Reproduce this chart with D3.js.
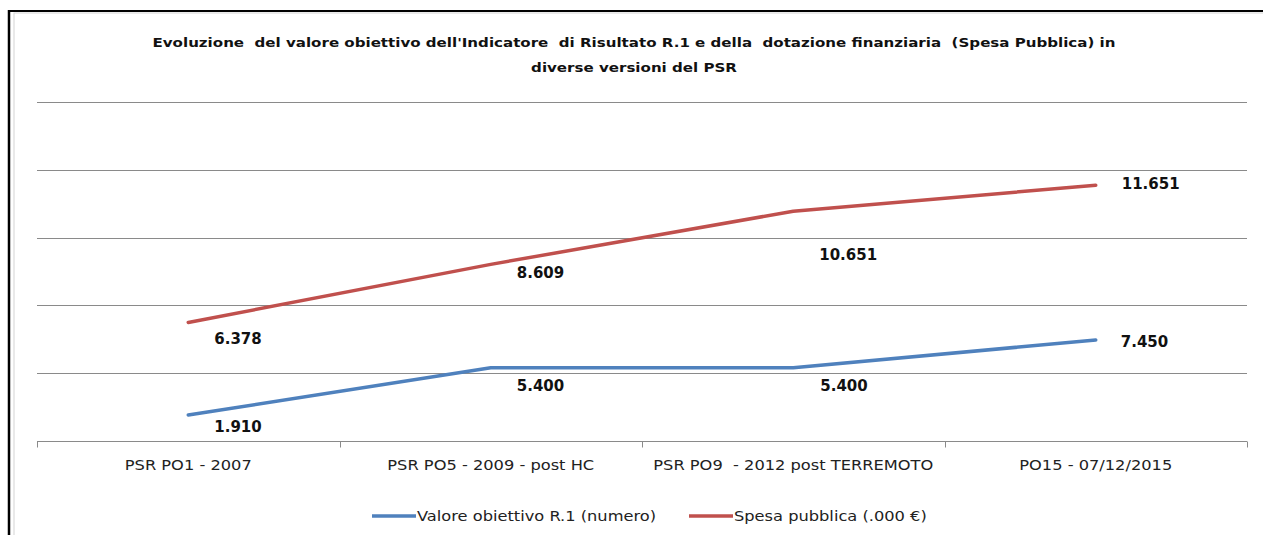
<!DOCTYPE html>
<html>
<head>
<meta charset="utf-8">
<script src="https://cdn.jsdelivr.net/npm/d3@7"></script>
<style>
  html, body { margin: 0; padding: 0; background: #fff; }
  svg { display: block; }
  text { white-space: pre; }
</style>
</head>
<body>
<svg id="chart" width="1263" height="535"></svg>
<script>
// Versions of the programme (x categories)
const categories = [
  "PSR PO1 - 2007",
  "PSR PO5 - 2009 - post HC",
  "PSR PO9  - 2012 post TERREMOTO",
  "PO15 - 07/12/2015"
];
// Target value of indicator R.1 (number)
const valoreObiettivo = [1.910, 5.400, 5.400, 7.450];
// Public expenditure (thousand euro)
const spesaPubblica = [6.378, 8.609, 10.651, 11.651];

const seriesNames = ["Valore obiettivo R.1 (numero)", "Spesa pubblica (.000 €)"];
const titleLines = [
  "Evoluzione  del valore obiettivo dell'Indicatore  di Risultato R.1 e della  dotazione finanziaria  (Spesa Pubblica) in",
  "diverse versioni del PSR"
];

// Label placement relative to each point (layout only)
const labelOffsets = [
  [[26, 12], [26, 18], [27, 18], [25, 2]],
  [[26, 16], [26, 8], [26, 44], [26, -1]]
];

const colors = ["#4F81BD", "#C0504D"];
const fmt = v => v.toFixed(3);
const FONT = "DejaVu Sans, Verdana, sans-serif";
const STRETCH = 1.16; // horizontally widened lettering

const svg = d3.select("#chart");
const W = 1263, H = 535;
const plot = { left: 37, right: 1247, top: 102, bottom: 441 };

// Outer frame: black top/left edges, light inner border
svg.append("rect").attr("x", 14).attr("y", 13).attr("width", W + 10).attr("height", H + 10)
  .attr("fill", "#fff").attr("stroke", "#d4d4d4").attr("stroke-width", 1);
svg.append("line").attr("x1", 9).attr("x2", W).attr("y1", 11).attr("y2", 11)
  .attr("stroke", "#000").attr("stroke-width", 2);
svg.append("line").attr("x1", 9).attr("x2", 9).attr("y1", 10).attr("y2", H)
  .attr("stroke", "#000").attr("stroke-width", 2.5);

// Title
svg.append("g").selectAll("text").data(titleLines).join("text")
  .attr("transform", (d, i) => `translate(634,${47 + i * 25}) scale(${STRETCH},1)`)
  .attr("text-anchor", "middle")
  .attr("font-family", FONT)
  .attr("font-weight", "bold").attr("font-size", 13)
  .attr("fill", "#111")
  .text(d => d);

// Scales
const x = d3.scaleBand().domain(categories).range([plot.left, plot.right]);
const yPrimary = d3.scaleLinear().domain([0, 25]).range([plot.bottom, plot.top]);
const ySecondary = d3.scaleLinear().domain([1.82, 14.85]).range([plot.bottom, plot.top]);
const cx = d => x(d) + x.bandwidth() / 2;

// Horizontal gridlines
svg.append("g").selectAll("line").data(yPrimary.ticks(5).filter(t => t > 0)).join("line")
  .attr("x1", plot.left).attr("x2", plot.right)
  .attr("y1", d => Math.round(yPrimary(d)) + 0.5).attr("y2", d => Math.round(yPrimary(d)) + 0.5)
  .attr("stroke", "#8a8a8a").attr("stroke-width", 1);

// Category axis
const xAxis = svg.append("g").attr("transform", `translate(0,${plot.bottom + 0.5})`);
xAxis.append("line").attr("x1", plot.left).attr("x2", plot.right)
  .attr("stroke", "#8a8a8a").attr("stroke-width", 1);
const boundaries = categories.map(c => x(c)).concat([plot.right]);
xAxis.selectAll("line.tick").data(boundaries).join("line").attr("class", "tick")
  .attr("x1", d => Math.round(d) + 0.5).attr("x2", d => Math.round(d) + 0.5)
  .attr("y1", 0).attr("y2", 6)
  .attr("stroke", "#8a8a8a").attr("stroke-width", 1);
xAxis.selectAll("text").data(categories).join("text")
  .attr("transform", d => `translate(${cx(d)},28) scale(${STRETCH},1)`)
  .attr("text-anchor", "middle")
  .attr("font-family", FONT)
  .attr("font-size", 14).attr("fill", "#222")
  .text(d => d);

// Lines
const series = [
  { values: valoreObiettivo, y: yPrimary },
  { values: spesaPubblica, y: ySecondary }
];
series.forEach((s, si) => {
  const pts = categories.map((c, i) => [cx(c), s.y(s.values[i])]);
  svg.append("path")
    .attr("d", d3.line()(pts))
    .attr("fill", "none").attr("stroke", colors[si])
    .attr("stroke-width", 3.5).attr("stroke-linecap", "round").attr("stroke-linejoin", "round");
  svg.append("g").selectAll("text").data(s.values).join("text")
    .attr("x", (d, i) => pts[i][0] + labelOffsets[si][i][0])
    .attr("y", (d, i) => pts[i][1] + labelOffsets[si][i][1])
    .attr("dy", "0.35em")
    .attr("font-family", FONT)
    .attr("font-weight", "bold").attr("font-size", 15).attr("fill", "#111")
    .text(d => fmt(d));
});

// Legend
const legendItems = [
  { name: seriesNames[0], color: colors[0], x: 372 },
  { name: seriesNames[1], color: colors[1], x: 689 }
];
const lg = svg.append("g").attr("transform", "translate(0,516)");
legendItems.forEach(it => {
  lg.append("line").attr("x1", it.x).attr("x2", it.x + 44).attr("y1", 0).attr("y2", 0)
    .attr("stroke", it.color).attr("stroke-width", 3.5);
  lg.append("text")
    .attr("transform", `translate(${it.x + 45},0) scale(${STRETCH},1)`)
    .attr("dy", "0.35em")
    .attr("font-family", FONT)
    .attr("font-size", 14).attr("fill", "#222")
    .text(it.name);
});
</script>
</body>
</html>
